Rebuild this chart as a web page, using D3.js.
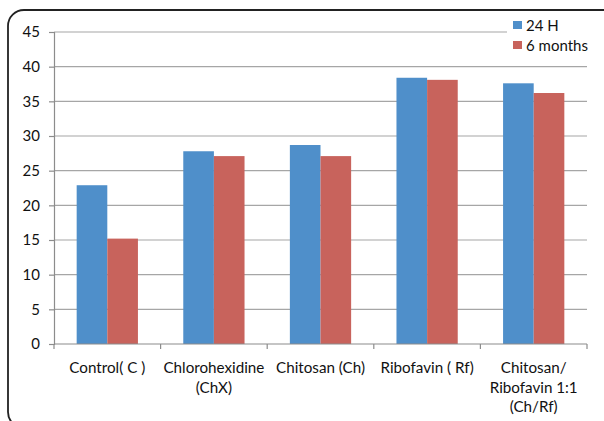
<!DOCTYPE html>
<html>
<head>
<meta charset="utf-8">
<script src="https://cdn.jsdelivr.net/npm/d3@7"></script>
<style>
  html, body { margin: 0; padding: 0; background: #fff; }
  svg { display: block; font-family: Lato, "Open Sans", sans-serif; }
</style>
</head>
<body>
<svg id="chart" width="604" height="421"></svg>
<script>
// Groups along the x axis (multi-line labels split on "|")
const categories = [
  "Control( C )",
  "Chlorohexidine|(ChX)",
  "Chitosan (Ch)",
  "Ribofavin ( Rf)",
  "Chitosan/|Ribofavin 1:1|(Ch/Rf)"
];
const seriesNames = ["24 H", "6 months"];
const values24h = [22.9, 27.8, 28.7, 38.4, 37.6];
const values6m  = [15.2, 27.1, 27.1, 38.1, 36.2];
const yTicks = [0, 5, 10, 15, 20, 25, 30, 35, 40, 45];
const colors = ["#4f8fca", "#c8635c"];

const svg = d3.select("#chart");

// rounded frame around the chart
svg.append("rect")
  .attr("x", 8).attr("y", 10)
  .attr("width", 612).attr("height", 418)
  .attr("rx", 16).attr("ry", 16)
  .attr("fill", "none").attr("stroke", "#222").attr("stroke-width", 1.8);

const plotLeft = 54, plotRight = 587, plotTop = 32, plotBottom = 344;

const x = d3.scaleBand().domain(categories).range([plotLeft, plotRight]);
const xInner = d3.scaleBand().domain(seriesNames)
  .range([0, x.bandwidth()]).paddingInner(0).paddingOuter(0.74);
const y = d3.scaleLinear().domain([0, 45]).range([plotBottom, plotTop]);

// horizontal gridlines
svg.append("g").selectAll("line").data(yTicks.filter(d => d > 0)).join("line")
  .attr("x1", plotLeft).attr("x2", plotRight)
  .attr("y1", d => y(d)).attr("y2", d => y(d))
  .attr("stroke", "#a6a6a6").attr("stroke-width", 1.2);

// y axis
const yAxis = svg.append("g").attr("transform", `translate(${plotLeft},0)`)
  .call(d3.axisLeft(y).tickValues(yTicks).tickSize(5).tickPadding(9));
yAxis.select(".domain").attr("stroke", "#8c8c8c").attr("stroke-width", 1.2);
yAxis.selectAll(".tick line").attr("stroke", "#8c8c8c").attr("stroke-width", 1.2);
yAxis.selectAll(".tick text").attr("font-size", 15).attr("fill", "#111")
  .attr("font-family", "Lato, sans-serif");

// bars
const data = categories.map((c, i) => ({ c, vals: [values24h[i], values6m[i]] }));
const groups = svg.append("g").selectAll("g").data(data).join("g")
  .attr("transform", d => `translate(${x(d.c)},0)`);
groups.selectAll("rect").data(d => d.vals.map((v, j) => ({ s: seriesNames[j], v, j })))
  .join("rect")
  .attr("x", d => xInner(d.s))
  .attr("width", xInner.bandwidth())
  .attr("y", d => y(d.v))
  .attr("height", d => y(0) - y(d.v))
  .attr("fill", d => colors[d.j]);

// x axis with ticks at category boundaries
const xAxis = svg.append("g").attr("transform", `translate(0,${plotBottom})`);
xAxis.append("line").attr("x1", plotLeft).attr("x2", plotRight)
  .attr("stroke", "#8c8c8c").attr("stroke-width", 1.2);
const bounds = categories.map(c => x(c)).concat([plotRight]);
xAxis.selectAll("line.t").data(bounds).join("line").attr("class", "t")
  .attr("x1", d => d).attr("x2", d => d).attr("y1", 0).attr("y2", 5)
  .attr("stroke", "#8c8c8c").attr("stroke-width", 1.2);

const labels = xAxis.selectAll("text").data(categories).join("text")
  .attr("text-anchor", "middle")
  .attr("font-size", 15.2).attr("fill", "#111")
  .attr("transform", d => `translate(${x(d) + x.bandwidth() / 2},29)`);
labels.selectAll("tspan").data(d => d.split("|")).join("tspan")
  .attr("x", 0).attr("y", (d, i) => i * 19.5).text(d => d);

// legend (white backing hides the gridline beneath it)
const legend = svg.append("g").attr("transform", "translate(507,14)");
legend.append("rect").attr("x", 0).attr("y", 0).attr("width", 82).attr("height", 42)
  .attr("fill", "#fff");
seriesNames.forEach((s, i) => {
  legend.append("rect").attr("x", 6).attr("y", 7 + i * 20)
    .attr("width", 9).attr("height", 8).attr("fill", colors[i]);
  legend.append("text").attr("x", 19).attr("y", 17 + i * 20)
    .attr("font-size", 15).attr("fill", "#111").text(s);
});
</script>
</body>
</html>
